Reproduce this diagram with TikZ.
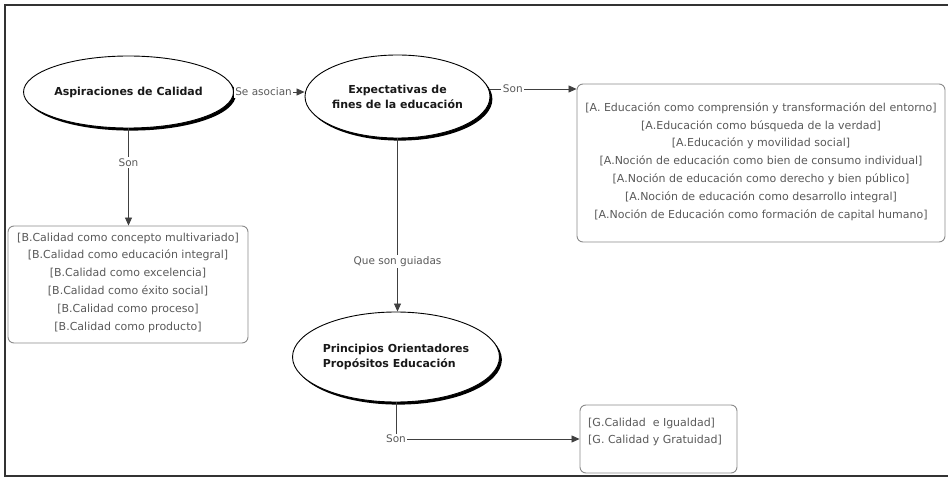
\documentclass[tikz,border=0pt]{standalone}
\usepackage{fontspec}
\setmainfont{DejaVu Sans}
\usetikzlibrary{arrows.meta,shadows,shapes.geometric}
\definecolor{frameC}{HTML}{333333}
\definecolor{txtC}{HTML}{5A5A5A}
\definecolor{boxC}{HTML}{8A8A8A}
\definecolor{lineC}{HTML}{404040}
\tikzset{
  concept/.style={ellipse, draw=black, line width=0.9pt, fill=white, inner sep=0pt,
    drop shadow={fill=black, opacity=1, shadow xshift=2.4pt, shadow yshift=-2.6pt},
    font=\fontsize{11}{15}\selectfont\bfseries, text=black!90},
  listbox/.style={draw=boxC, rounded corners=6pt, line width=0.9pt, fill=white},
  listtxt/.style={text=txtC, font=\fontsize{11}{17.8}\selectfont, inner sep=0pt},
  conn/.style={draw=lineC, line width=0.8pt},
  arr/.style={conn, -{Triangle[length=8pt,width=7pt]}},
  lbl/.style={fill=white, text=txtC, font=\fontsize{10.5}{13}\selectfont, inner sep=1.5pt}
}
\begin{document}
\begin{tikzpicture}[x=1pt,y=-1pt]
\useasboundingbox (0,0) rectangle (948,478);
% frame
\draw[frameC, line width=2.6pt] (948,5) -- (5,5) -- (5,476) -- (948,476);

% concept ellipses
\node[concept, minimum width=167pt, minimum height=72pt] (e1) at (128.5,92) {Aspiraciones de Calidad};
\node[concept, minimum width=159pt, minimum height=83pt, align=center] (e2) at (397.5,96.5) {Expectativas de\\fines de la educación};
\node[concept, minimum width=178pt, minimum height=90pt, align=left] (e3) at (396,357) {Principios Orientadores\\Propósitos Educación};

% list boxes
\node[listbox, minimum width=368pt, minimum height=158pt] (A) at (761,163) {};
\node[listtxt, align=center] (At) at (761,161.5) {{[A. Educación como comprensión y transformación del entorno]}\\
{[A.Educación como búsqueda de la verdad]}\\
{[A.Educación y movilidad social]}\\
{[A.Noción de educación como bien de consumo individual]}\\
{[A.Noción de educación como derecho y bien público]}\\
{[A.Noción de educación como desarrollo integral]}\\
{[A.Noción de Educación como formación de capital humano]}};

\node[listbox, minimum width=240pt, minimum height=117pt] (B) at (128,284.5) {};
\node[listtxt, align=center] (Bt) at (128,282.5) {{[B.Calidad como concepto multivariado]}\\
{[B.Calidad como educación integral]}\\
{[B.Calidad como excelencia]}\\
{[B.Calidad como éxito social]}\\
{[B.Calidad como proceso]}\\
{[B.Calidad como producto]}};

\node[listbox, minimum width=157pt, minimum height=68pt] (G) at (658.5,439) {};
\node[listtxt, align=left, anchor=west] (Gt) at (588,432) {{[G.Calidad\ \ e Igualdad]}\\
{[G. Calidad y Gratuidad]}};

% connectors
\draw[arr] (e1.east) -- node[lbl, pos=0.42]{Se asocian} (e1.east -| e2.west);
\draw[arr] (e2.east |- 0,89) -- node[lbl, pos=0.26]{Son} (A.west |- 0,89);
\draw[arr] (e1.south) -- node[lbl, pos=0.35]{Son} (e1.south |- B.north);
\draw[arr] (e2.south) -- node[lbl, pos=0.71]{Que son guiadas} (e2.south |- e3.north);
\draw[arr] (e3.south) |- node[lbl, pos=0.5]{Son} (G.west);
\end{tikzpicture}
\end{document}
